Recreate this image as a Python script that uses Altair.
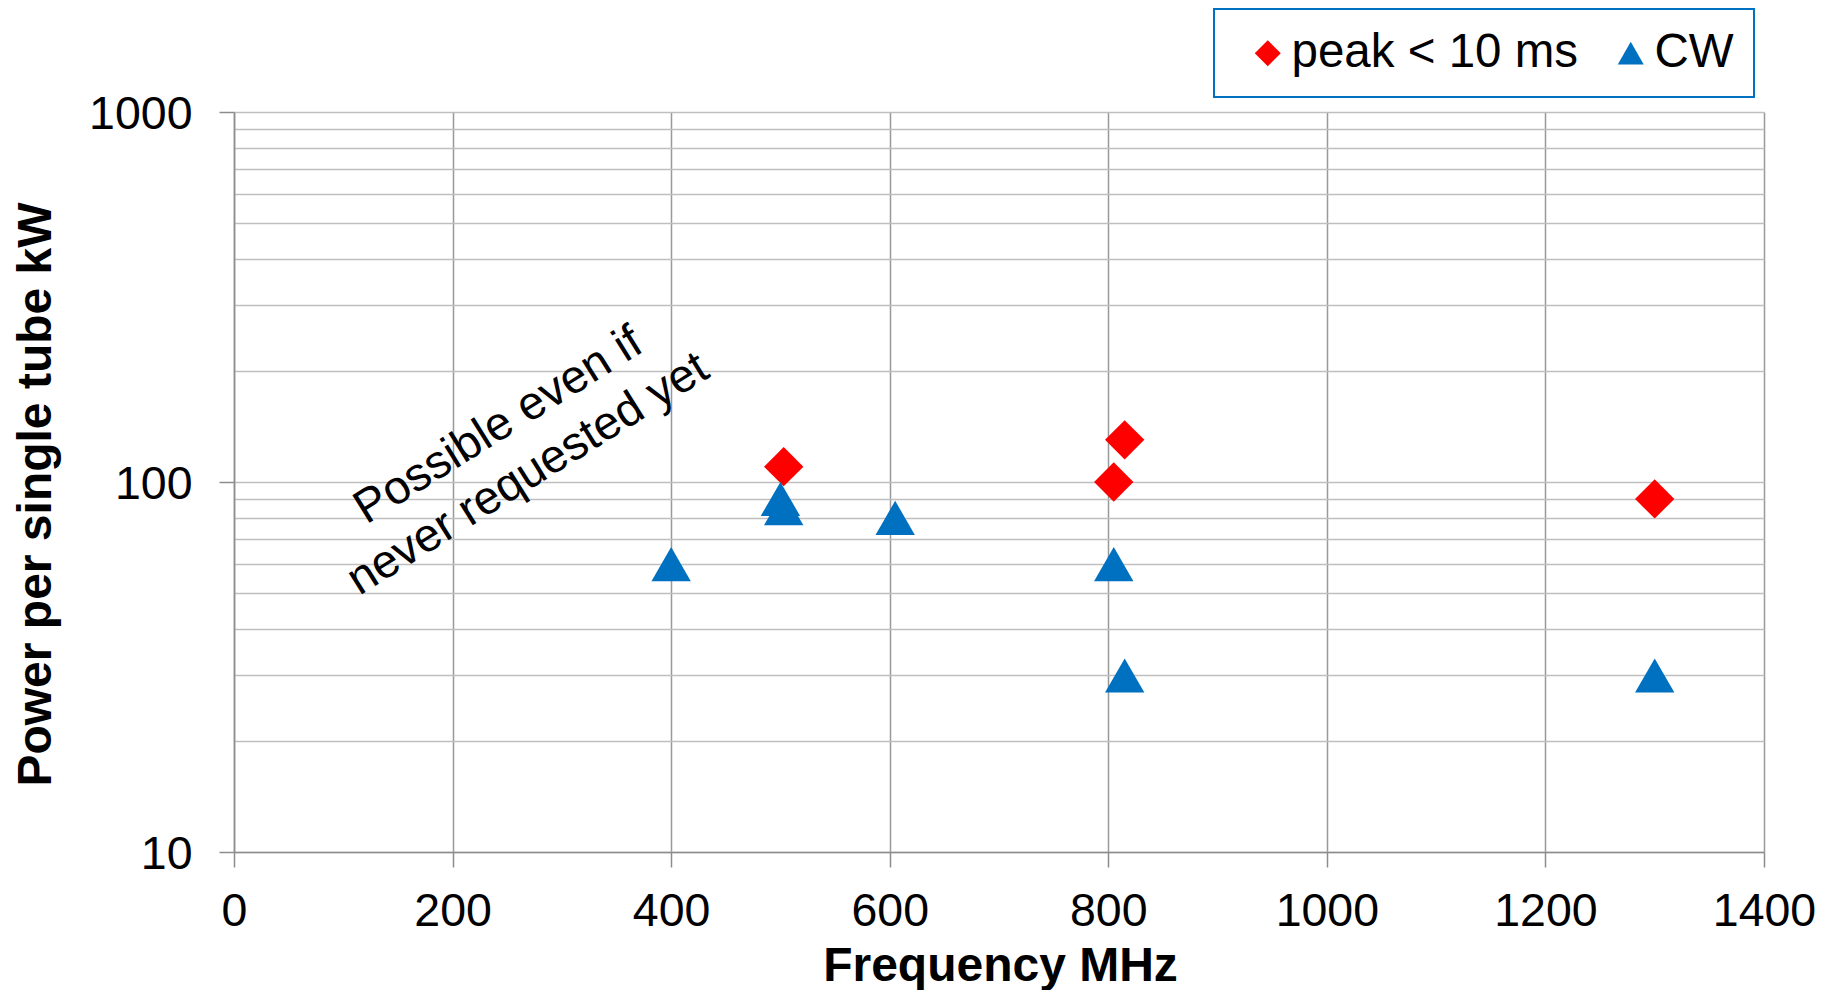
import altair as alt
import pandas as pd

# ---- data ----
series_names = ["peak < 10 ms", "CW"]
series_colors = ["#ff0000", "#0070c0"]
series_shapes = ["diamond", "triangle-up"]

peak_freq = [503, 805, 815, 1300]
peak_power = [110, 100, 130, 90]

cw_freq = [400, 500, 503, 605, 805, 815, 1300]
cw_power = [60, 90, 85, 80, 60, 30, 30]

x_ticks = [0, 200, 400, 600, 800, 1000, 1200, 1400]
y_grid = [10, 20, 30, 40, 50, 60, 70, 80, 90,
          100, 200, 300, 400, 500, 600, 700, 800, 900, 1000]
y_major = [10, 100, 1000]

note_lines = ["Possible even if", "never requested yet"]
note_freq = [242, 269]
note_power = [142, 105]

FONT = "Liberation Sans"

rows = []
for f, p in zip(peak_freq, peak_power):
    rows.append({"freq": f, "power": p, "series": series_names[0]})
for f, p in zip(cw_freq, cw_power):
    rows.append({"freq": f, "power": p, "series": series_names[1]})
df = pd.DataFrame(rows)

notes = pd.DataFrame({"freq": note_freq, "power": note_power, "note": note_lines})

major_test = " || ".join(f"datum.value == {v}" for v in y_major)

x_enc = alt.X(
    "freq:Q",
    scale=alt.Scale(domain=[0, 1400], nice=False),
    axis=alt.Axis(
        values=x_ticks, format="d", title="Frequency MHz",
        titleFont=FONT, titleFontSize=48, titleFontWeight="bold", titleColor="black",
        titleX=766, titleY=128, titleBaseline="alphabetic", titleAlign="center",
        labelFont=FONT, labelFontSize=46.5, labelColor="black",
        labelBaseline="alphabetic", labelPadding=58, labelFlush=False, labelOverlap=False,
        tickSize=15, tickColor="#8c8c8c", tickWidth=1.5,
        domainColor="#8c8c8c", domainWidth=1.5,
        grid=True, gridColor="#999999", gridWidth=1.5,
    ),
)

y_enc = alt.Y(
    "power:Q",
    scale=alt.Scale(type="log", domain=[10, 1000], nice=False),
    axis=alt.Axis(
        values=y_grid, title="Power per single tube kW",
        titleFont=FONT, titleFontSize=48, titleFontWeight="bold", titleColor="black",
        titleAngle=270, titleX=-184, titleY=382, titleBaseline="alphabetic", titleAlign="center",
        labelExpr=f"({major_test}) ? format(datum.value, 'd') : ''",
        labelFont=FONT, labelFontSize=46.5, labelColor="black",
        labelBaseline="alphabetic", labelOffset=16, labelPadding=27,
        labelFlush=False, labelOverlap=False,
        tickSize=15, tickWidth=1.5,
        tickColor=alt.condition(major_test, alt.value("#8c8c8c"), alt.value("transparent")),
        domainColor="#8c8c8c", domainWidth=1.5,
        grid=True, gridColor="#bfbfbf", gridWidth=1.5,
    ),
)

legend = alt.Legend(
    title=None, orient="none", legendX=980, legendY=-103, direction="horizontal",
    symbolSize=676, symbolStrokeWidth=0, symbolOffset=10,
    labelFont=FONT, labelFontSize=47.5, labelColor="black", labelOffset=0, labelLimit=1000,
    columnPadding=19, padding=20, strokeColor="#0070c0", fillColor="white",
)

points = alt.Chart(df).mark_point(filled=True, size=1550, opacity=1, strokeWidth=0).encode(
    x=x_enc,
    y=y_enc,
    color=alt.Color("series:N", scale=alt.Scale(domain=series_names, range=series_colors), legend=legend),
    shape=alt.Shape("series:N", scale=alt.Scale(domain=series_names, range=series_shapes), legend=legend),
)

text = alt.Chart(notes).mark_text(
    angle=328, font=FONT, fontSize=47, color="black", align="center", baseline="middle"
).encode(x=x_enc, y=y_enc, text="note:N")

chart = alt.layer(points, text).properties(
    width=1530, height=740,
    autosize=alt.AutoSizeParams(type="none"),
    padding={"left": 226, "top": 104, "right": 59, "bottom": 138},
    background="white",
).configure_view(strokeWidth=0).configure_legend(strokeWidth=2)

chart.save("out.html", embed_options={"renderer": "svg", "actions": False})
